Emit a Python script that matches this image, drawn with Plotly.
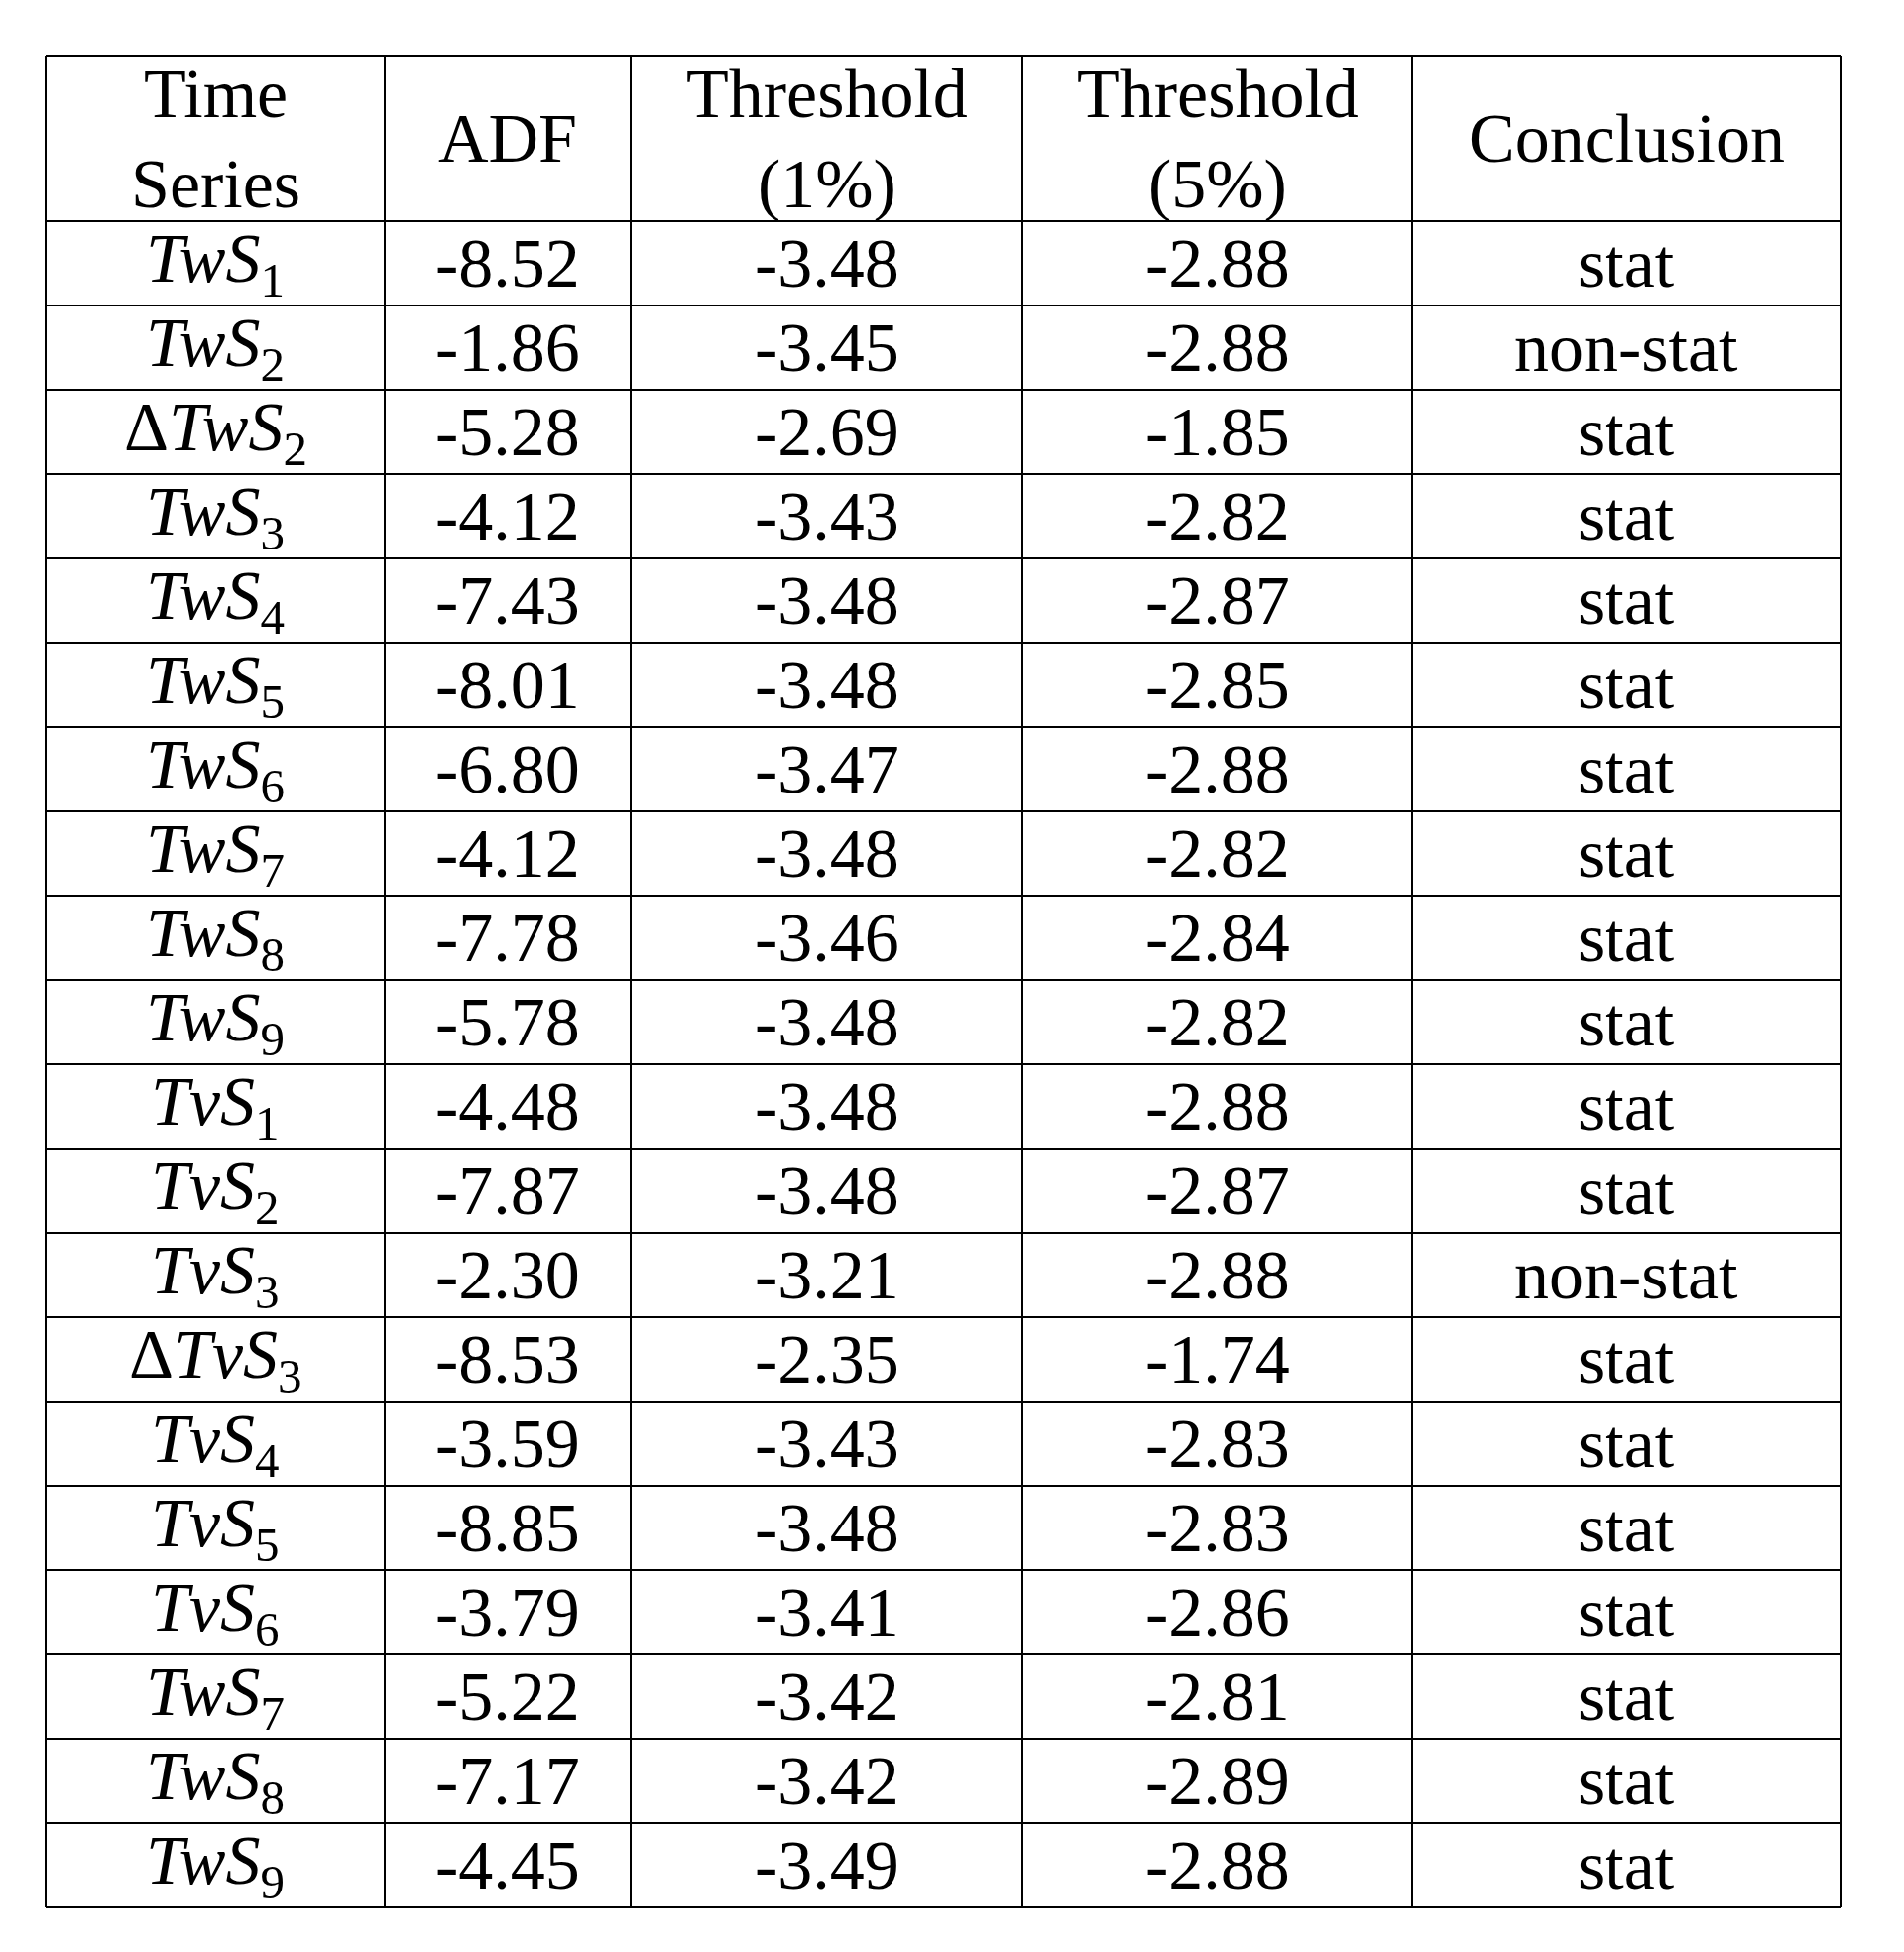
import plotly.graph_objects as go

series = ["<i>TwS</i><sub>1</sub>", "<i>TwS</i><sub>2</sub>", "Δ<i>TwS</i><sub>2</sub>",
          "<i>TwS</i><sub>3</sub>", "<i>TwS</i><sub>4</sub>", "<i>TwS</i><sub>5</sub>",
          "<i>TwS</i><sub>6</sub>", "<i>TwS</i><sub>7</sub>", "<i>TwS</i><sub>8</sub>",
          "<i>TwS</i><sub>9</sub>", "<i>TvS</i><sub>1</sub>", "<i>TvS</i><sub>2</sub>",
          "<i>TvS</i><sub>3</sub>", "Δ<i>TvS</i><sub>3</sub>", "<i>TvS</i><sub>4</sub>",
          "<i>TvS</i><sub>5</sub>", "<i>TvS</i><sub>6</sub>", "<i>TwS</i><sub>7</sub>",
          "<i>TwS</i><sub>8</sub>", "<i>TwS</i><sub>9</sub>"]
adf = ["-8.52", "-1.86", "-5.28", "-4.12", "-7.43", "-8.01", "-6.80", "-4.12", "-7.78", "-5.78",
       "-4.48", "-7.87", "-2.30", "-8.53", "-3.59", "-8.85", "-3.79", "-5.22", "-7.17", "-4.45"]
thr1 = ["-3.48", "-3.45", "-2.69", "-3.43", "-3.48", "-3.48", "-3.47", "-3.48", "-3.46", "-3.48",
        "-3.48", "-3.48", "-3.21", "-2.35", "-3.43", "-3.48", "-3.41", "-3.42", "-3.42", "-3.49"]
thr5 = ["-2.88", "-2.88", "-1.85", "-2.82", "-2.87", "-2.85", "-2.88", "-2.82", "-2.84", "-2.82",
        "-2.88", "-2.87", "-2.88", "-1.74", "-2.83", "-2.83", "-2.86", "-2.81", "-2.89", "-2.88"]
conclusion = ["stat", "non-stat", "stat", "stat", "stat", "stat", "stat", "stat", "stat", "stat",
              "stat", "stat", "non-stat", "stat", "stat", "stat", "stat", "stat", "stat", "stat"]
headers = ["Time<br>Series", "ADF", "Threshold<br>(1%)", "Threshold<br>(5%)", "Conclusion"]

col_edges = [38, 380, 628, 1023, 1416, 1848]
top, head_bot, bottom = 48, 215, 1915
row_h = (bottom - head_bot) / len(series)
FONT = dict(family="Liberation Serif", size=70, color="black")

fig = go.Figure()
shapes = []
for x in col_edges:
    shapes.append(dict(type="line", x0=x, x1=x, y0=top, y1=bottom, line=dict(color="black", width=2)))
ys = [top, head_bot] + [head_bot + row_h * (i + 1) for i in range(len(series))]
for y in ys:
    shapes.append(dict(type="line", x0=col_edges[0], x1=col_edges[-1], y0=y, y1=y,
                       line=dict(color="black", width=2)))

annotations = []
centers = [(col_edges[i] + col_edges[i + 1]) / 2 for i in range(5)]
for c, h in zip(centers, headers):
    annotations.append(dict(x=c, y=(top + head_bot) / 2, text=h, showarrow=False, font=FONT,
                            xref="x", yref="y"))
columns = [series, adf, thr1, thr5, conclusion]
for j, col in enumerate(columns):
    for i, v in enumerate(col):
        annotations.append(dict(x=centers[j], y=head_bot + row_h * (i + 0.5), text=v,
                                showarrow=False, font=FONT, xref="x", yref="y"))

fig.update_layout(
    width=1920, height=1968, margin=dict(l=0, r=0, t=0, b=0),
    plot_bgcolor="white", paper_bgcolor="white",
    xaxis=dict(range=[0, 1920], visible=False, fixedrange=True),
    yaxis=dict(range=[1968, 0], visible=False, fixedrange=True),
    shapes=shapes, annotations=annotations, showlegend=False,
)
fig.write_html("out.html")
